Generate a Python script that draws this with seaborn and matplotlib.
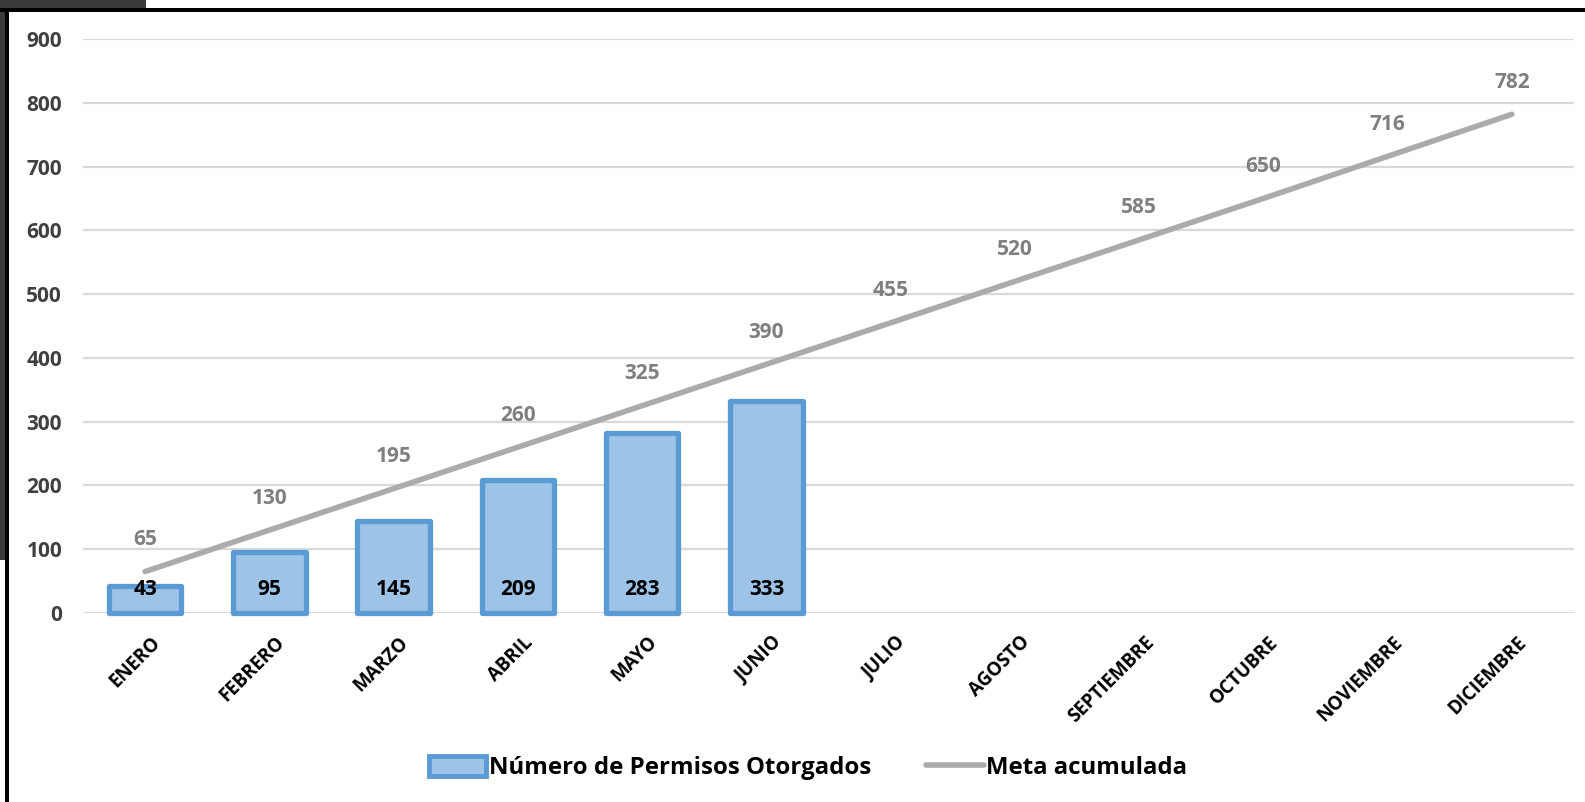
import numpy as np
import pandas as pd
import matplotlib
matplotlib.use("Agg")
import matplotlib.pyplot as plt
import seaborn as sns
from matplotlib.patches import Rectangle, Patch
from matplotlib.lines import Line2D

months = ["ENERO", "FEBRERO", "MARZO", "ABRIL", "MAYO", "JUNIO", "JULIO",
          "AGOSTO", "SEPTIEMBRE", "OCTUBRE", "NOVIEMBRE", "DICIEMBRE"]
permisos = [43, 95, 145, 209, 283, 333, np.nan, np.nan, np.nan, np.nan, np.nan, np.nan]
meta = [65, 130, 195, 260, 325, 390, 455, 520, 585, 650, 716, 782]
yticks = [0, 100, 200, 300, 400, 500, 600, 700, 800, 900]

sns.set_theme(style="white")
plt.rcParams['font.family'] = ['Open Sans', 'DejaVu Sans']
plt.rcParams['font.weight'] = 'bold'

W, H = 1585, 802
fig = plt.figure(figsize=(W / 100, H / 100), dpi=100)
ax = fig.add_axes([83 / W, 1 - 613 / H, (1574 - 83) / W, (613 - 39) / H])

df = pd.DataFrame({"mes": months, "permisos": permisos})
bar_fill = "#9DC3E6"
bar_edge = "#5B9BD5"
line_col = "#ADAAAA"

sns.barplot(data=df, x="mes", y="permisos", order=months, color=bar_fill,
            edgecolor=bar_edge, linewidth=3.8, width=0.585, saturation=1, ax=ax, zorder=3)
for p in ax.patches:
    p.set_clip_on(False)
    p.set_joinstyle('round')

x = np.arange(len(months))
sns.lineplot(x=x, y=meta, color=line_col, linewidth=4, ax=ax, zorder=4,
             solid_capstyle='round')

# labels
for xi, v in zip(x, permisos):
    if not np.isnan(v):
        ax.annotate(f"{int(v)}", (xi, 0), xytext=(0, 17), textcoords="offset points",
                    ha="center", va="center", fontsize=15, fontweight="bold",
                    color="black", zorder=5)
for xi, v in zip(x, meta):
    ax.annotate(f"{v}", (xi, v), xytext=(0, 23), textcoords="offset points",
                ha="center", va="center", fontsize=15, fontweight="bold",
                color="#7F7F7F", zorder=5)

ax.set_xlim(-0.5, 11.5)
ax.set_ylim(0, 900)
ax.set_yticks(yticks)
ax.set_yticklabels([str(t) for t in yticks], fontsize=15, fontweight="bold", color="#404040")
ax.yaxis.grid(True, color="#D9D9D9", linewidth=1.6, zorder=0)
ax.set_axisbelow(True)
ax.tick_params(axis="y", length=0, pad=15)
ax.tick_params(axis="x", length=0, pad=14)
ax.set_xticks(x)
ax.set_xticklabels(months, rotation=45, ha="right", va="top", rotation_mode="anchor",
                   fontsize=13.5, fontweight="bold", color="black")
for lbl in ax.get_xticklabels():
    lbl.set_transform(lbl.get_transform() + matplotlib.transforms.ScaledTranslation(0.05, 0, fig.dpi_scale_trans))
ax.set_xlabel("")
ax.set_ylabel("")
for s in ax.spines.values():
    s.set_visible(False)

handles = [Patch(facecolor=bar_fill, edgecolor=bar_edge, linewidth=3.5),
           Line2D([0], [0], color=line_col, linewidth=4)]
leg = fig.legend(handles, ["Número de Permisos Otorgados", "Meta acumulada"],
                 loc="center", bbox_to_anchor=(808 / W, 1 - 768 / H), ncol=2,
                 frameon=False, prop={"size": 17.3, "weight": "bold"},
                 handlelength=2.4, handleheight=0.9, handletextpad=0.1, columnspacing=2.3,
                 labelcolor="black")

# screenshot frame
fig.patches.append(Rectangle((0, 1 - 9 / H), 146 / W, 9 / H, transform=fig.transFigure,
                             facecolor="#3a3a3a", edgecolor="none", zorder=10))
fig.patches.append(Rectangle((0, 1 - 560 / H), 5 / W, 560 / H, transform=fig.transFigure,
                             facecolor="#3a3a3a", edgecolor="none", zorder=10))
fig.patches.append(Rectangle((0, 1 - 12 / H), 1, 4 / H, transform=fig.transFigure,
                             facecolor="black", edgecolor="none", zorder=11))
fig.patches.append(Rectangle((5 / W, 0), 4 / W, 1 - 8 / H, transform=fig.transFigure,
                             facecolor="black", edgecolor="none", zorder=11))

fig.savefig("out.png", dpi=100)
